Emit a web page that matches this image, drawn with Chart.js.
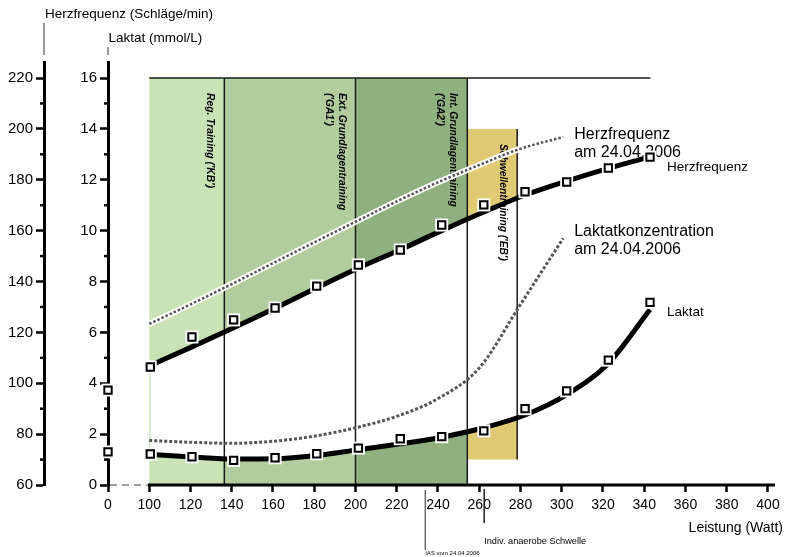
<!DOCTYPE html>
<html>
<head>
<meta charset="utf-8">
<script src="https://cdn.jsdelivr.net/npm/chart.js@4.4.1/dist/chart.umd.min.js"></script>
<style>
  html, body { margin: 0; padding: 0; background: #fff; }
  #wrap { width: 785px; height: 557px; }
</style>
</head>
<body>
<div id="wrap"><canvas id="chart" width="785" height="557"></canvas></div>
<script>
const watts = [100.5, 120.7, 140.9, 161, 181.2, 201.4, 221.7, 241.8, 262.2, 282.2, 302.4, 322.6, 342.8];
const hfMeasured = [106.4, 118.2, 124.9, 129.6, 138.2, 146.5, 152.4, 162.2, 170.1, 175.3, 179.1, 184.6, 188.9];
const lacMeasured = [1.22, 1.11, 0.97, 1.07, 1.23, 1.45, 1.82, 1.90, 2.13, 3.0, 3.70, 4.91, 7.18];
// Ausgleichskurven
const hfTrend = [107, 114.3, 121.8, 129.5, 137.5, 145.3, 152.5, 160, 167.3, 174, 179.5, 184.5, 189];
const lacTrend = [1.2, 1.1, 1.02, 1.03, 1.16, 1.39, 1.62, 1.88, 2.25, 2.75, 3.55, 4.78, 6.9];
// Test vom 24.04.2006
const prevWatts = [100, 120, 140, 160, 180, 200, 220, 240, 260, 280, 300.7];
const hfPrev = [123.3, 131, 139, 147.2, 155.4, 163.5, 171.5, 179, 185.8, 192.2, 196.8];
const lacPrev = [1.75, 1.68, 1.64, 1.72, 1.92, 2.25, 2.7, 3.4, 4.6, 7.1, 9.7];
// Ruhewerte (0 Watt, sitzt am Achsenbruch)
const restHf = 97.3;
const restLac = 1.3;
const restPos = 80;
// Trainingsbereiche
const zoneFrom = [100, 136.4, 200, 254.2];
const zoneTo = [136.4, 200, 254.2, 278.4];
const zoneLacTop = [16, 16, 16, 14];
const zoneLacBottom = [0, 0, 0, 1];
const zoneColors = ['#c9e2b6', '#b1cd9d', '#8fb07f', '#e0ca74'];
const zoneLabels = [["Reg. Training ('KB')"], ['Ext. Grundlagentraining', "('GA1')"], ['Int. Grundlagentraining', "('GA2')"], ["Schwellentraining ('EB')"]];
const topLineTo = 343;
// Schwellen
const iasPrev = 233.8;
const iasNow = 262.4;

const FONT = "'Liberation Sans', Arial, sans-serif";
Chart.defaults.font.family = FONT;
Chart.defaults.color = '#000';

const pts = (xs, ys) => xs.map((x, i) => ({ x: x, y: ys[i] }));
const hfPts = [{ x: restPos, y: restHf }].concat(pts(watts, hfMeasured));
const lacPts = [{ x: restPos, y: restLac }].concat(pts(watts, lacMeasured));

function text(ctx, str, x, y, font, align) {
    ctx.font = font;
    ctx.textAlign = align || 'left';
    ctx.textBaseline = 'middle';
    ctx.fillStyle = '#000';
    ctx.fillText(str, x, y);
}

function vline(ctx, x, y0, y1, w, color) {
    ctx.beginPath();
    ctx.moveTo(x, y0);
    ctx.lineTo(x, y1);
    ctx.lineWidth = w;
    ctx.strokeStyle = color;
    ctx.stroke();
}

const decor = {
    id: 'decor',
    // zone backgrounds go first, the white band between the curves is painted by the filler on top
    beforeDraw(chart) {
        const { ctx } = chart;
        const x = chart.scales.x, lac = chart.scales.lac;
        ctx.save();
        zoneFrom.forEach((from, i) => {
            const x0 = x.getPixelForValue(from), x1 = x.getPixelForValue(zoneTo[i]);
            const y0 = lac.getPixelForValue(zoneLacTop[i]), y1 = lac.getPixelForValue(zoneLacBottom[i]);
            ctx.fillStyle = zoneColors[i];
            ctx.fillRect(x0, y0, x1 - x0, y1 - y0);
        });
        ctx.restore();
    },
    beforeDatasetsDraw(chart) {
        const { ctx, chartArea } = chart;
        const x = chart.scales.x, lac = chart.scales.lac, hf = chart.scales.hf;
        ctx.save();
        // zone borders
        zoneTo.forEach((to, i) => {
            vline(ctx, x.getPixelForValue(to), lac.getPixelForValue(zoneLacTop[i]), lac.getPixelForValue(zoneLacBottom[i]), 1.5, '#1a1a1a');
        });
        ctx.beginPath();
        ctx.moveTo(x.getPixelForValue(zoneFrom[0]), lac.getPixelForValue(16));
        ctx.lineTo(x.getPixelForValue(topLineTo), lac.getPixelForValue(16));
        ctx.lineWidth = 1.5;
        ctx.stroke();

        // zone labels, rotated
        zoneLabels.forEach((lines, i) => {
            const right = x.getPixelForValue(zoneTo[i]);
            const top = lac.getPixelForValue(zoneLacTop[i]) + 15;
            lines.forEach((s, j) => {
                ctx.save();
                ctx.translate(right - 14 - j * 13, top);
                ctx.rotate(Math.PI / 2);
                text(ctx, s, 0, 0, 'italic bold 10.3px ' + FONT);
                ctx.restore();
            });
        });

        // series labels on the right
        const hpx = x.getPixelForValue(prevWatts[prevWatts.length - 1]);
        const hpy = hf.getPixelForValue(hfPrev[hfPrev.length - 1]);
        text(ctx, 'Herzfrequenz', hpx + 11, hpy - 2, '16px ' + FONT);
        text(ctx, 'am 24.04.2006', hpx + 11, hpy + 16, '16px ' + FONT);
        const lpy = lac.getPixelForValue(lacPrev[lacPrev.length - 1]);
        text(ctx, 'Laktatkonzentration', hpx + 11, lpy - 6.5, '16px ' + FONT);
        text(ctx, 'am 24.04.2006', hpx + 11, lpy + 11, '16px ' + FONT);
        const mx = x.getPixelForValue(watts[watts.length - 1]);
        text(ctx, 'Herzfrequenz', mx + 17, hf.getPixelForValue(hfMeasured[hfMeasured.length - 1]) + 10, '13.5px ' + FONT);
        text(ctx, 'Laktat', mx + 17, lac.getPixelForValue(lacMeasured[lacMeasured.length - 1]) + 10, '13.5px ' + FONT);

        // x axis: dashed across the break, solid from 100 W
        const yb = chartArea.bottom;
        ctx.beginPath();
        ctx.setLineDash([7, 5]);
        ctx.moveTo(x.getPixelForValue(restPos) + 2, yb);
        ctx.lineTo(x.getPixelForValue(100) - 2, yb);
        ctx.lineWidth = 1.2;
        ctx.strokeStyle = '#444';
        ctx.stroke();
        ctx.setLineDash([]);
        ctx.beginPath();
        ctx.moveTo(x.getPixelForValue(100) - 1.5, yb);
        ctx.lineTo(chartArea.right, yb);
        ctx.lineWidth = 3;
        ctx.strokeStyle = '#000';
        ctx.stroke();
        ctx.restore();
    },
    afterDraw(chart) {
        const { ctx } = chart;
        const x = chart.scales.x, lac = chart.scales.lac, hf = chart.scales.hf;
        ctx.save();
        // minor ticks
        for (let v = 70; v < 220; v += 20) {
            const y = hf.getPixelForValue(v);
            ctx.beginPath(); ctx.moveTo(hf.right - 4, y); ctx.lineTo(hf.right, y);
            ctx.lineWidth = 2.5; ctx.strokeStyle = '#000'; ctx.stroke();
        }
        for (let v = 1; v < 16; v += 2) {
            const y = lac.getPixelForValue(v);
            ctx.beginPath(); ctx.moveTo(lac.right - 4, y); ctx.lineTo(lac.right, y);
            ctx.lineWidth = 2.5; ctx.strokeStyle = '#000'; ctx.stroke();
        }
        // axis titles
        vline(ctx, hf.right, 23, 55, 1, '#333');
        vline(ctx, lac.right, 47, 55, 1, '#333');
        text(ctx, 'Herzfrequenz (Schläge/min)', hf.right + 1, 14, '13.5px ' + FONT);
        text(ctx, 'Laktat (mmol/L)', lac.right + 0.5, 38, '13.5px ' + FONT);
        text(ctx, 'Leistung (Watt)', 783, 528, '14px ' + FONT, 'right');

        // thresholds under the axis
        const xa = x.getPixelForValue(iasPrev), xb = x.getPixelForValue(iasNow);
        vline(ctx, xa, 490, 550, 1, '#222');
        vline(ctx, xb, 489, 523, 1.5, '#222');
        text(ctx, 'Indiv. anaerobe Schwelle', xb, 541, '9.2px ' + FONT);
        text(ctx, 'IAS vom 24.04.2006', xa, 553, '6px ' + FONT);
        ctx.restore();
    }
};

new Chart(document.getElementById('chart'), {
    type: 'line',
    data: {
        datasets: [
            { // 0 HF markers
                data: hfPts, yAxisID: 'hf', showLine: false, order: 0, clip: false,
                pointStyle: 'rect', pointRadius: 5.2, pointBackgroundColor: '#fff', pointBorderColor: '#000', pointBorderWidth: 2
            },
            { // 1 lactate markers
                data: lacPts, yAxisID: 'lac', showLine: false, order: 0, clip: false,
                pointStyle: 'rect', pointRadius: 5.2, pointBackgroundColor: '#fff', pointBorderColor: '#000', pointBorderWidth: 2
            },
            { // 2 HF marker halo
                data: hfPts, yAxisID: 'hf', showLine: false, order: 1, clip: false,
                pointStyle: 'rect', pointRadius: 9.2, pointBackgroundColor: '#fff', pointBorderWidth: 0
            },
            { // 3 lactate marker halo
                data: lacPts, yAxisID: 'lac', showLine: false, order: 1, clip: false,
                pointStyle: 'rect', pointRadius: 9.2, pointBackgroundColor: '#fff', pointBorderWidth: 0
            },
            { // 4 HF trend, white band down to lactate trend
                data: pts(watts, hfTrend), yAxisID: 'hf', order: 3,
                borderColor: '#000', borderWidth: 5, pointRadius: 0, cubicInterpolationMode: 'monotone',
                fill: { target: 5 }, backgroundColor: '#fff'
            },
            { // 5 lactate trend
                data: pts(watts, lacTrend), yAxisID: 'lac', order: 3,
                borderColor: '#000', borderWidth: 5, pointRadius: 0, cubicInterpolationMode: 'monotone', fill: false
            },
            { // 6 HF 24.04.2006
                data: pts(prevWatts, hfPrev), yAxisID: 'hf', order: 5,
                borderColor: '#555', borderWidth: 2.5, borderDash: [2.5, 2], pointRadius: 0, cubicInterpolationMode: 'monotone', fill: false
            },
            { // 7 halo under it
                data: pts(prevWatts, hfPrev), yAxisID: 'hf', order: 6,
                borderColor: '#fff', borderWidth: 6, pointRadius: 0, cubicInterpolationMode: 'monotone', fill: false
            },
            { // 8 lactate 24.04.2006
                data: pts(prevWatts, lacPrev), yAxisID: 'lac', order: 5,
                borderColor: '#555', borderWidth: 3, borderDash: [3, 2], pointRadius: 0, cubicInterpolationMode: 'monotone', fill: false
            }
        ]
    },
    options: {
        responsive: false,
        animation: false,
        events: [],
        layout: { padding: { top: 62, right: 10, left: 0, bottom: 0 } },
        plugins: {
            legend: { display: false },
            tooltip: { enabled: false },
            filler: { drawTime: 'beforeDatasetsDraw' }
        },
        scales: {
            x: {
                type: 'linear', min: restPos, max: 403.4,
                border: { display: false },
                grid: { drawOnChartArea: false, drawTicks: true, tickLength: 7, tickWidth: 2.5, tickColor: '#000' },
                ticks: {
                    stepSize: 20, includeBounds: false, autoSkip: false, maxRotation: 0, padding: 5,
                    font: { size: 14 },
                    callback: v => v === restPos ? '0' : v
                },
                afterFit: s => { s.height = 72; }
            },
            hf: {
                type: 'linear', position: 'left', weight: 1, min: 60, max: 226.29,
                border: { display: true, color: '#000', width: 3 },
                grid: { drawOnChartArea: false, drawTicks: true, tickLength: 8, tickWidth: 2.5, tickColor: '#000' },
                ticks: { stepSize: 20, includeBounds: false, padding: 3, font: { size: 15 } },
                afterFit: s => { s.width = 44; }
            },
            lac: {
                type: 'linear', position: 'left', weight: 0, min: 0, max: 16.629,
                border: { display: true, color: '#000', width: 3 },
                grid: { drawOnChartArea: false, drawTicks: true, tickLength: 8, tickWidth: 2.5, tickColor: '#000' },
                ticks: { stepSize: 2, includeBounds: false, padding: 3, font: { size: 15 } },
                afterFit: s => { s.width = 64; }
            }
        }
    },
    plugins: [decor]
});
</script>
</body>
</html>
